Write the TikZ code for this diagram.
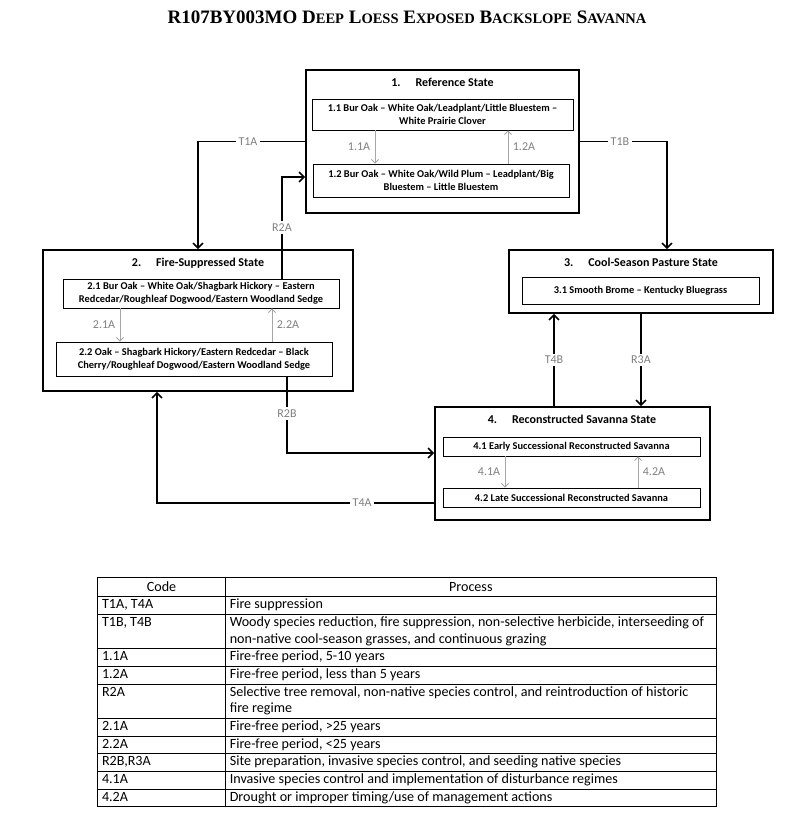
\documentclass[tikz,border=0pt]{standalone}
\usepackage{fontspec}
\setmainfont{Carlito}
\newfontfamily\titlefont{Liberation Serif}
\usepackage{array}
\usetikzlibrary{shapes,arrows,arrows.meta}
\usetikzlibrary{positioning}

\newcommand{\smc}[1]{{\fontsize{14.5}{14.5}\selectfont #1}}

\tikzset{
  statebox/.style={rectangle, draw, line width=1.6pt},
  statetitle/.style={font=\fontsize{12}{14}\selectfont\bfseries},
  phasebox/.style={rectangle, draw, line width=0.9pt, align=center, inner sep=0pt, font=\fontsize{10.4}{12.8}\selectfont\bfseries},
  transarrow/.style={-{Straight Barb[length=5pt, width=10pt]}, line width=1.6pt},
  phasearrow/.style={-{Straight Barb[length=3.5pt, width=7pt]}, draw=gray!70, line width=0.8pt},
  codelbl/.style={fill=white, text=gray, font=\fontsize{12}{13}\selectfont, inner sep=2.5pt}
}

\begin{document}
\begin{tikzpicture}[x=1pt, y=-1pt]
\useasboundingbox (0,0) rectangle (800,831);

\node (title) at (407,17) {\titlefont\bfseries\fontsize{19}{19}\selectfont R107BY003MO D\smc{EEP} L\smc{OESS} E\smc{XPOSED} B\smc{ACKSLOPE} S\smc{AVANNA}};

% state 1
\node[statebox, minimum width=273, minimum height=143] (state1) at (442.5,141.5) {};
\node[statetitle] (title1) at (442.5,82) {1.\hspace{15pt}Reference State};
\node[phasebox, minimum width=261, minimum height=31] (s11) at (442.5,114.5) {1.1 Bur Oak – White Oak/Leadplant/Little Bluestem –\\White Prairie Clover};
\node[phasebox, minimum width=256, minimum height=33] (s12) at (441,180.5) {1.2 Bur Oak – White Oak/Wild Plum – Leadplant/Big\\Bluestem – Little Bluestem};

% state 2
\node[statebox, minimum width=310, minimum height=141] (state2) at (198,320.5) {};
\node[statetitle] (title2) at (198,263) {2.\hspace{15pt}Fire-Suppressed State};
\node[phasebox, minimum width=276, minimum height=29] (s21) at (201,293.5) {2.1 Bur Oak – White Oak/Shagbark Hickory – Eastern\\Redcedar/Roughleaf Dogwood/Eastern Woodland Sedge};
\node[phasebox, minimum width=276, minimum height=34] (s22) at (194,359) {2.2 Oak – Shagbark Hickory/Eastern Redcedar – Black\\Cherry/Roughleaf Dogwood/Eastern Woodland Sedge};

% state 3
\node[statebox, minimum width=264, minimum height=63] (state3) at (641,281.5) {};
\node[statetitle] (title3) at (641,262) {3.\hspace{15pt}Cool-Season Pasture State};
\node[phasebox, minimum width=237, minimum height=27] (s31) at (640.5,290.5) {3.1 Smooth Brome – Kentucky Bluegrass};

% state 4
\node[statebox, minimum width=275, minimum height=113] (state4) at (572.5,463.5) {};
\node[statetitle] (title4) at (572,419) {4.\hspace{15pt}Reconstructed Savanna State};
\node[phasebox, minimum width=257, minimum height=19] (s41) at (571.5,446.5) {4.1 Early Successional Reconstructed Savanna};
\node[phasebox, minimum width=257, minimum height=19] (s42) at (571.5,497.5) {4.2 Late Successional Reconstructed Savanna};

% community phase pathways
\draw[phasearrow] ([xshift=-67.5pt]s11.south) -- node[codelbl, left=2pt] {1.1A} ([xshift=-66pt]s12.north);
\draw[phasearrow] ([xshift=67pt]s12.north) -- node[codelbl, right=2pt] {1.2A} ([xshift=65.5pt]s11.south);
\draw[phasearrow] ([xshift=-81pt]s21.south) -- node[codelbl, left=2pt] {2.1A} ([xshift=-74pt]s22.north);
\draw[phasearrow] ([xshift=78pt]s22.north) -- node[codelbl, right=2pt] {2.2A} ([xshift=71pt]s21.south);
\draw[phasearrow] ([xshift=-66.5pt]s41.south) -- node[codelbl, left=2pt] {4.1A} ([xshift=-66.5pt]s42.north);
\draw[phasearrow] ([xshift=66.5pt]s42.north) -- node[codelbl, right=2pt] {4.2A} ([xshift=66.5pt]s41.south);

% transitions
\coordinate (t4b) at ([xshift=-18.5pt]state4.north);
\draw[transarrow] (state1.west) -| node[codelbl, pos=0.267] {T1A} (state2.north);
\draw[transarrow] (state1.east) -| node[codelbl, pos=0.23] {T1B} ([xshift=26pt]state3.north);
\draw[transarrow] ([xshift=81pt]s21.north) |- node[codelbl, pos=0.25] {R2A} ([yshift=-35.5pt]state1.west);
\draw[transarrow] ([xshift=93pt]s22.south) |- node[codelbl, pos=0.24] {R2B} ([yshift=10.5pt]state4.west);
\draw[transarrow] ([yshift=-39.5pt]state4.west) -| node[codelbl, pos=0.13] {T4A} ([xshift=-41pt]state2.south);
\draw[transarrow] (t4b) -- node[codelbl] {T4B} (t4b |- state3.south);
\draw[transarrow] (state3.south) -- node[codelbl] {R3A} (state3.south |- state4.north);

% legend
\node[anchor=north west, inner sep=0pt] (codes) at (97,577) {\fontsize{14.1}{16.85}\selectfont%
\setlength{\tabcolsep}{4pt}\setlength{\arrayrulewidth}{0.8pt}%
\begin{tabular}{|p{119pt}|p{482pt}|}\hline
\multicolumn{1}{|c|}{Code\rule{0pt}{13pt}} & \multicolumn{1}{c|}{Process}\\\hline
T1A, T4A & Fire suppression\\\hline
T1B, T4B & Woody species reduction, fire suppression, non-selective herbicide, interseeding of\newline non-native cool-season grasses, and continuous grazing\\\hline
1.1A & Fire-free period, 5-10 years\\\hline
1.2A & Fire-free period, less than 5 years\\\hline
R2A & Selective tree removal, non-native species control, and reintroduction of historic\newline fire regime\\\hline
2.1A & Fire-free period, >25 years\\\hline
2.2A & Fire-free period, <25 years\\\hline
R2B,R3A & Site preparation, invasive species control, and seeding native species\\\hline
4.1A & Invasive species control and implementation of disturbance regimes\\\hline
4.2A & Drought or improper timing/use of management actions\\\hline
\end{tabular}};
\end{tikzpicture}
\end{document}
